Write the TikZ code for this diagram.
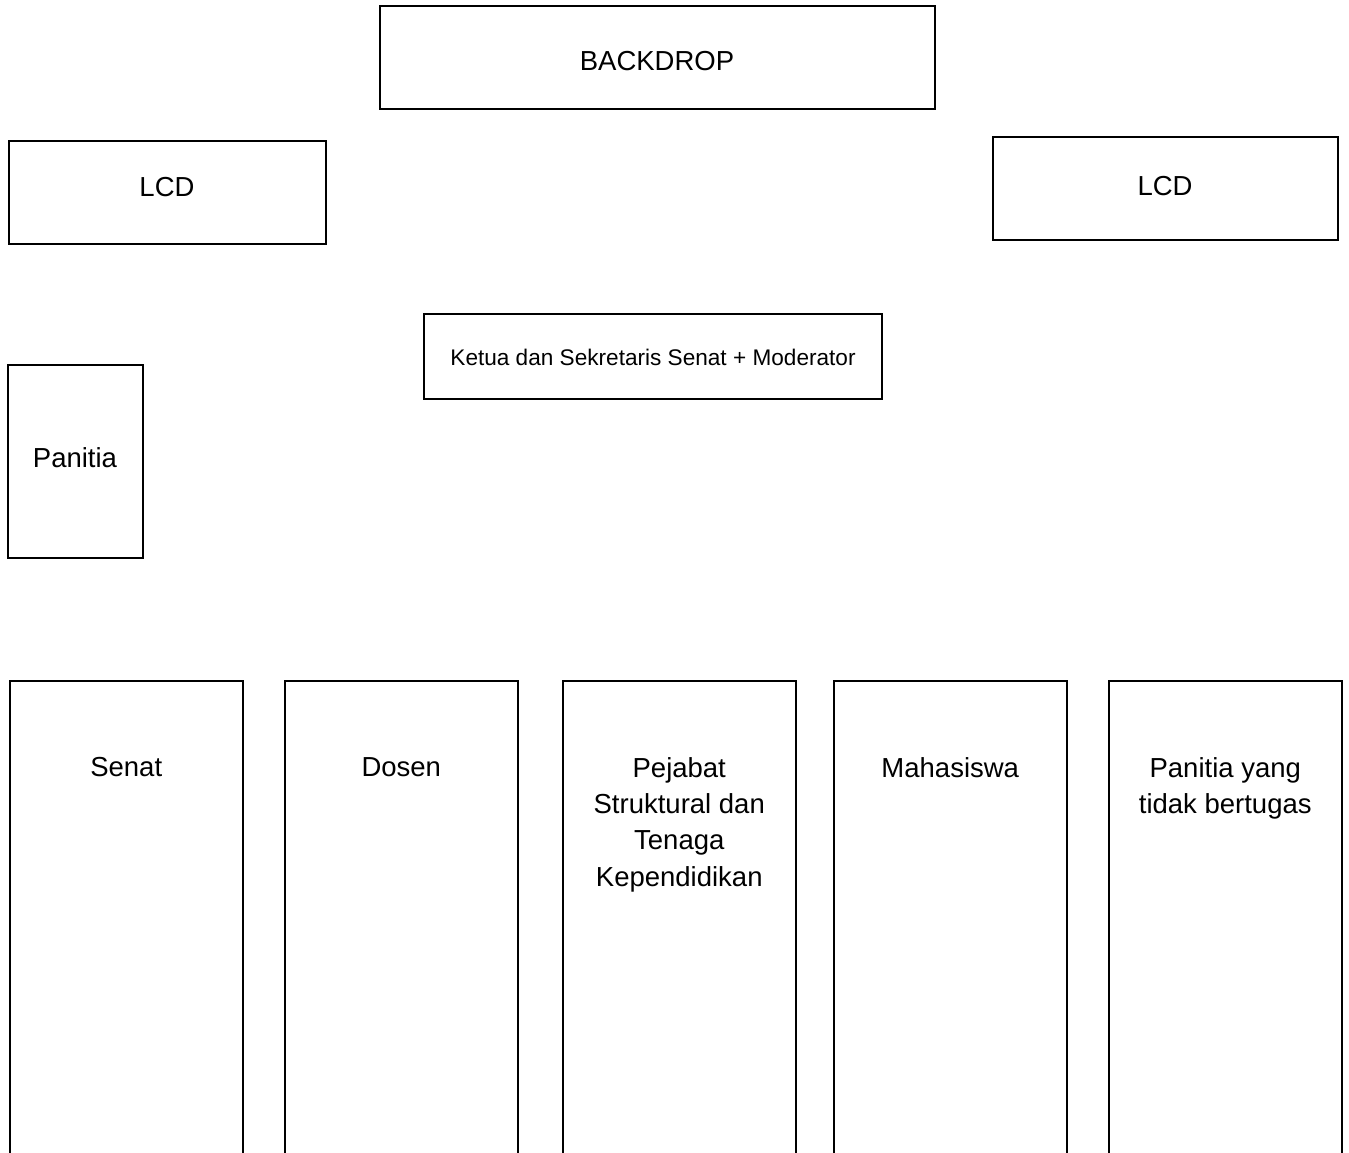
\documentclass[tikz,border=0pt]{standalone}
\usepackage{fontspec}
\setmainfont{Liberation Sans}
\begin{document}
\begin{tikzpicture}[x=1pt, y=-1pt,
  kotak/.style={draw, rectangle, line width=1.5pt, inner sep=0pt},
  kolom/.style={draw, rectangle, line width=1.5pt, inner sep=0pt, minimum width=233, minimum height=520, anchor=north west},
  tulisan/.style={inner sep=0pt, align=center, font=\fontsize{27.5}{36.3}\selectfont}]
\useasboundingbox (0,0) rectangle (1349,1153);
\clip (0,0) rectangle (1349,1153);

% panggung
\node[kotak, minimum width=555, minimum height=103] (backdrop) at (657.5,57.5) {};
\node[tulisan] (tbackdrop) at (657,61.5) {BACKDROP};
\node[kotak, minimum width=317, minimum height=103] (lcdkiri) at (167.5,192.5) {};
\node[tulisan] (tlcdkiri) at (167,186.7) {LCD};
\node[kotak, minimum width=345, minimum height=103] (lcdkanan) at (1165.5,188.5) {};
\node[tulisan] (tlcdkanan) at (1165,186) {LCD};
\node[kotak, minimum width=458, minimum height=85] (ketua) at (653,356.5) {};
\node[tulisan, font=\fontsize{22.6}{27}\selectfont] (tketua) at (653,357) {Ketua dan Sekretaris Senat + Moderator};
\node[kotak, minimum width=135, minimum height=193] (panitia) at (75.5,461.5) {};
\node[tulisan] (tpanitia) at (75,457.5) {Panitia};

% tempat duduk
\foreach \x/\nama/\isi in {9/senat/Senat, 284/dosen/Dosen, 562/pejabat/{Pejabat\\Struktural dan\\Tenaga\\Kependidikan}, 833/mhs/Mahasiswa, 1108/panitiab/{Panitia yang\\tidak bertugas}}{
  \node[kolom] (\nama) at (\x,680) {};
  \node[tulisan, anchor=north] (t\nama) at ([yshift=-77pt]\nama.north) {\isi};
}
\end{tikzpicture}
\end{document}
